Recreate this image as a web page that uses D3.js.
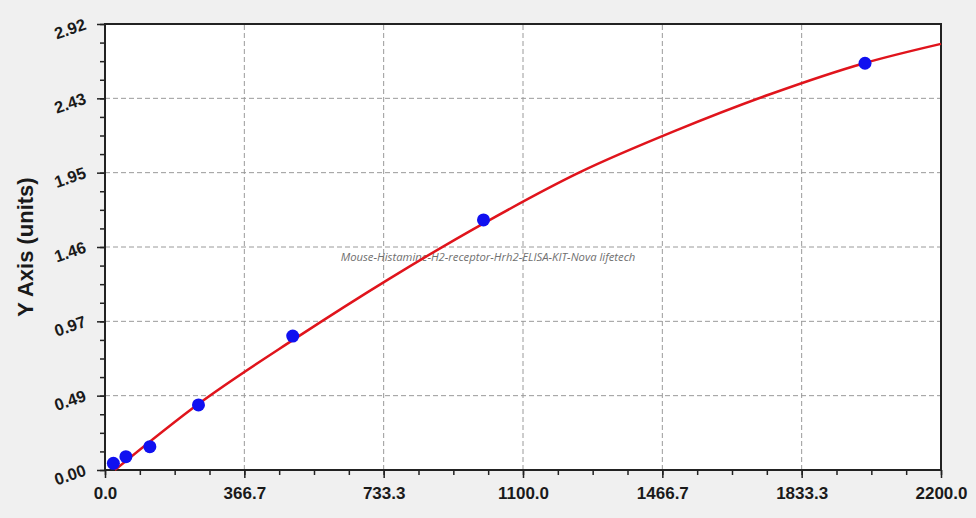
<!DOCTYPE html>
<html>
<head>
<meta charset="utf-8">
<script src="https://cdn.jsdelivr.net/npm/d3@7"></script>
<style>
  html, body { margin: 0; padding: 0; background: #f0f0f0; }
  svg { display: block; }
</style>
</head>
<body>
<div id="chart"></div>
<script>
const width = 976,
    height = 518

const xMax = 2200, yMax = 2.92

// standards (concentration, OD)
const pointX = [22, 55, 118, 246, 494, 996, 2000]
const pointY = [0.044, 0.087, 0.153, 0.426, 0.877, 1.637, 2.663]

// fitted curve
const curveX = [26, 250, 500, 750, 1000, 1250, 1500, 1750, 2000, 2200]
const curveY = [0.00, 0.44, 0.86, 1.255, 1.62, 1.95, 2.22, 2.46, 2.665, 2.79]

const xTicks = d3.range(7).map(i => i * xMax / 6)
const yTicks = d3.range(7).map(i => i * yMax / 6)
const xMinor = d3.range(25).map(i => i * xMax / 24)
const yMinor = d3.range(25).map(i => i * yMax / 24)

const title = 'Mouse-Histamine-H2-receptor-Hrh2-ELISA-KIT-Nova lifetech'
const yLabel = 'Y Axis (units)'

const x = d3.scaleLinear().domain([0, xMax]).range([105, 941])
const y = d3.scaleLinear().domain([0, yMax]).range([470, 24])

const svg = d3.select('#chart')
  .append('svg')
    .attr('width', width)
    .attr('height', height)

svg.append('rect')
  .attr('width', width)
  .attr('height', height)
  .attr('fill', '#f0f0f0')

// plot area
svg.append('rect')
  .attr('x', x(0))
  .attr('y', y(yMax))
  .attr('width', x(xMax) - x(0))
  .attr('height', y(0) - y(yMax))
  .attr('fill', '#ffffff')

// grid
svg.append('g')
  .selectAll('line')
  .data(xTicks.slice(1, -1))
  .join('line')
    .attr('x1', d => x(d)).attr('x2', d => x(d))
    .attr('y1', y(0)).attr('y2', y(yMax))
    .attr('stroke', '#9a9a9a')
    .attr('stroke-dasharray', '5,3')

svg.append('g')
  .selectAll('line')
  .data(yTicks.slice(1, -1))
  .join('line')
    .attr('y1', d => y(d)).attr('y2', d => y(d))
    .attr('x1', x(0)).attr('x2', x(xMax))
    .attr('stroke', '#9a9a9a')
    .attr('stroke-dasharray', '5,3')

// watermark title
svg.append('text')
  .attr('x', 488)
  .attr('y', 261)
  .attr('text-anchor', 'middle')
  .style('font-family', '"Open Sans", sans-serif')
  .style('font-style', 'italic')
  .style('font-size', '11.3px')
  .style('fill', '#707070')
  .text(title)

// minor ticks
svg.append('g')
  .attr('transform', `translate(0, ${y(0)})`)
  .call(d3.axisBottom(x).tickValues(xMinor).tickSize(5).tickFormat(''))
  .call(g => g.select('.domain').remove())
  .selectAll('line').attr('stroke', '#222').attr('stroke-width', 1.5)

svg.append('g')
  .attr('transform', `translate(${x(0)}, 0)`)
  .call(d3.axisLeft(y).tickValues(yMinor).tickSize(5).tickFormat(''))
  .call(g => g.select('.domain').remove())
  .selectAll('line').attr('stroke', '#222').attr('stroke-width', 1.5)

// x axis
const xAxis = svg.append('g')
  .attr('transform', `translate(0, ${y(0)})`)
  .call(d3.axisBottom(x).tickValues(xTicks).tickSize(8).tickPadding(9).tickFormat(d3.format('.1f')))

xAxis.select('.domain').remove()
xAxis.selectAll('line').attr('stroke', '#222').attr('stroke-width', 1.5)
xAxis.selectAll('text')
  .style('font-family', 'Liberation Sans, Arial, sans-serif')
  .style('font-weight', 'bold')
  .style('font-size', '17px')
  .style('fill', '#1a1a1a')

// y axis
const yAxis = svg.append('g')
  .attr('transform', `translate(${x(0)}, 0)`)
  .call(d3.axisLeft(y).tickValues(yTicks).tickSize(8).tickFormat(d3.format('.2f')))

yAxis.select('.domain').remove()
yAxis.selectAll('line').attr('stroke', '#222').attr('stroke-width', 1.5)
yAxis.selectAll('text')
  .attr('x', null)
  .attr('dy', null)
  .attr('text-anchor', 'middle')
  .attr('dominant-baseline', 'central')
  .attr('transform', `translate(${70 - x(0)}, 4) rotate(-19)`)
  .style('font-family', 'Liberation Sans, Arial, sans-serif')
  .style('font-weight', 'bold')
  .style('font-size', '16.5px')
  .style('fill', '#1a1a1a')

// frame
svg.append('path')
  .attr('d', `M${x(0)},${y(0)}H${x(xMax)}V${y(yMax)}H${x(0)}Z`)
  .attr('fill', 'none')
  .attr('stroke', '#222')
  .attr('stroke-width', 2)

// y axis title
svg.append('text')
  .attr('transform', `translate(33, 247) rotate(-90)`)
  .attr('text-anchor', 'middle')
  .style('font-family', 'Liberation Sans, Arial, sans-serif')
  .style('font-weight', 'bold')
  .style('font-size', '22px')
  .style('fill', '#1a1a1a')
  .text(yLabel)

// fitted curve
const line = d3.line()
  .x(d => x(d[0]))
  .y(d => y(d[1]))
  .curve(d3.curveMonotoneX)

svg.append('path')
  .datum(d3.zip(curveX, curveY))
  .attr('d', line)
  .attr('fill', 'none')
  .attr('stroke', '#e0141c')
  .attr('stroke-width', 2.5)

// points
svg.append('g')
  .selectAll('circle')
  .data(d3.zip(pointX, pointY))
  .join('circle')
    .attr('cx', d => x(d[0]))
    .attr('cy', d => y(d[1]))
    .attr('r', 6.5)
    .attr('fill', '#1010f0')
</script>
</body>
</html>
